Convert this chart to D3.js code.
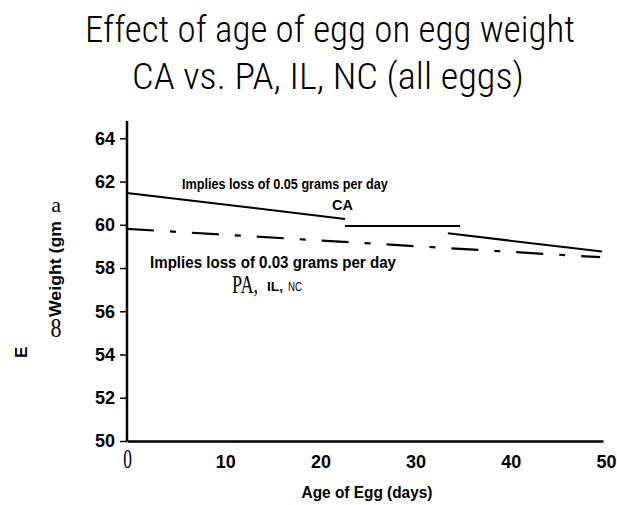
<!DOCTYPE html>
<html>
<head>
<meta charset="utf-8">
<script src="https://cdn.jsdelivr.net/npm/d3@7"></script>
<style>
body { margin: 0; background: #fff; }
svg { display: block; }
.axis path { stroke: #000; stroke-width: 2.5px; }
.axis line { stroke: #000; stroke-width: 1.5px; }
.bold { font-family: "Liberation Sans", Arial, sans-serif; font-weight: bold; fill: #000; }
.serif { font-family: "Liberation Serif", "Times New Roman", serif; fill: #000; }
.plain { font-family: "Liberation Sans", Arial, sans-serif; fill: #000; }
.title { font-family: "Roboto Condensed", "Liberation Sans Narrow", Roboto, sans-serif; font-weight: 300; fill: #000; }
</style>
</head>
<body>
<div id="chart"></div>
<script>
var days = [0, 10, 20, 30, 40, 50];
var weights = [50, 52, 54, 56, 58, 60, 62, 64];

// CA fit, printed in three pieces on the slide
var caDays = [[0, 22.9], [22.9, 35.0], [33.7, 49.9]];
var caWeights = [[61.47, 60.27], [59.94, 59.94], [59.61, 58.76]];

// PA, IL, NC fit (dash-dot)
var paDays = [0, 49.7];
var paWeights = [59.81, 58.50];

var width = 617, height = 505;

var x = d3.scaleLinear().domain([0, 50]).range([127, 603]),
    y = d3.scaleLinear().domain([50, 64.8]).range([441, 121]);

var svg = d3.select("#chart").append("svg")
    .attr("width", width)
    .attr("height", height);

// squeeze a text to the width it has on the slide
function label(cls, px, py, size, txt, w, anchor, rot) {
    var t = svg.append("text")
        .attr("class", cls)
        .attr("text-anchor", anchor || "start")
        .style("font-size", size + "px")
        .text(txt);
    var sx = w ? w / t.node().getComputedTextLength() : 1;
    t.attr("transform", "translate(" + px + "," + py + ")" + (rot ? "rotate(" + rot + ")" : "") + "scale(" + sx + ",1)");
    return t;
}

// title
label("title", 330, 42, 37, "Effect of age of egg on egg weight", 490, "middle");
label("title", 328, 89, 37, "CA vs. PA, IL, NC (all eggs)", 392, "middle");

// axes
var yAxis = svg.append("g")
    .attr("class", "axis")
    .attr("transform", "translate(127,0)")
    .call(d3.axisLeft(y).tickValues(weights).tickSize(7).tickSizeOuter(0).tickPadding(5));

yAxis.selectAll("text")
    .attr("class", "bold")
    .style("font-size", "18px")
    .style("font-family", null);

yAxis.select(".domain").attr("d", "M0," + y(64.8) + "V" + y(50));

var xAxis = svg.append("g")
    .attr("class", "axis")
    .attr("transform", "translate(0,441)")
    .call(d3.axisBottom(x).tickValues(days).tickSize(0).tickSizeOuter(0));

xAxis.selectAll("text")
    .attr("class", "bold")
    .attr("y", 27)
    .attr("dy", null)
    .attr("dx", 3)
    .style("font-size", "18px")
    .style("font-family", null);

// the "0" came out in a serif face on the slide
xAxis.selectAll(".tick").filter(function (d) { return d === 0; }).select("text")
    .attr("class", "serif")
    .attr("dx", 0)
    .attr("y", 0)
    .attr("transform", "translate(0,27)scale(0.62,1)")
    .style("font-size", "28px");

// lines
var line = d3.line()
    .x(function (d) { return x(d[0]); })
    .y(function (d) { return y(d[1]); });

svg.selectAll(".ca")
    .data(caDays.map(function (dd, i) {
        return [[dd[0], caWeights[i][0]], [dd[1], caWeights[i][1]]];
    }))
    .enter().append("path")
    .attr("class", "ca")
    .attr("d", line)
    .attr("fill", "none")
    .attr("stroke", "#000")
    .attr("stroke-width", 2);

svg.append("path")
    .datum(paDays.map(function (d, i) { return [d, paWeights[i]]; }))
    .attr("d", line)
    .attr("fill", "none")
    .attr("stroke", "#000")
    .attr("stroke-width", 2.2)
    .attr("stroke-dasharray", "27,16,6,16");

// annotations
label("bold", 182, 189, 15, "Implies loss of 0.05 grams per day", 206);
label("bold", 332, 210, 15, "CA", 21);
label("bold", 150, 268, 17, "Implies loss of 0.03 grams per day", 246);
label("serif", 232, 293, 25, "PA,", 26);
label("bold", 267, 291, 13, "IL,", 16);
label("plain", 288, 291, 12, "NC", 14);

// axis titles
label("bold", 367, 498, 16, "Age of Egg (days)", 131, "middle");
label("bold", 61, 317, 17, "Weight (gm", 96, "start", -90);
label("serif", 56, 212, 22, "a", 0, "middle");
label("serif", 56, 337, 27, "8", 11, "middle");
label("bold", 27, 358, 17, "E", 0, "start", -90);
</script>
</body>
</html>
